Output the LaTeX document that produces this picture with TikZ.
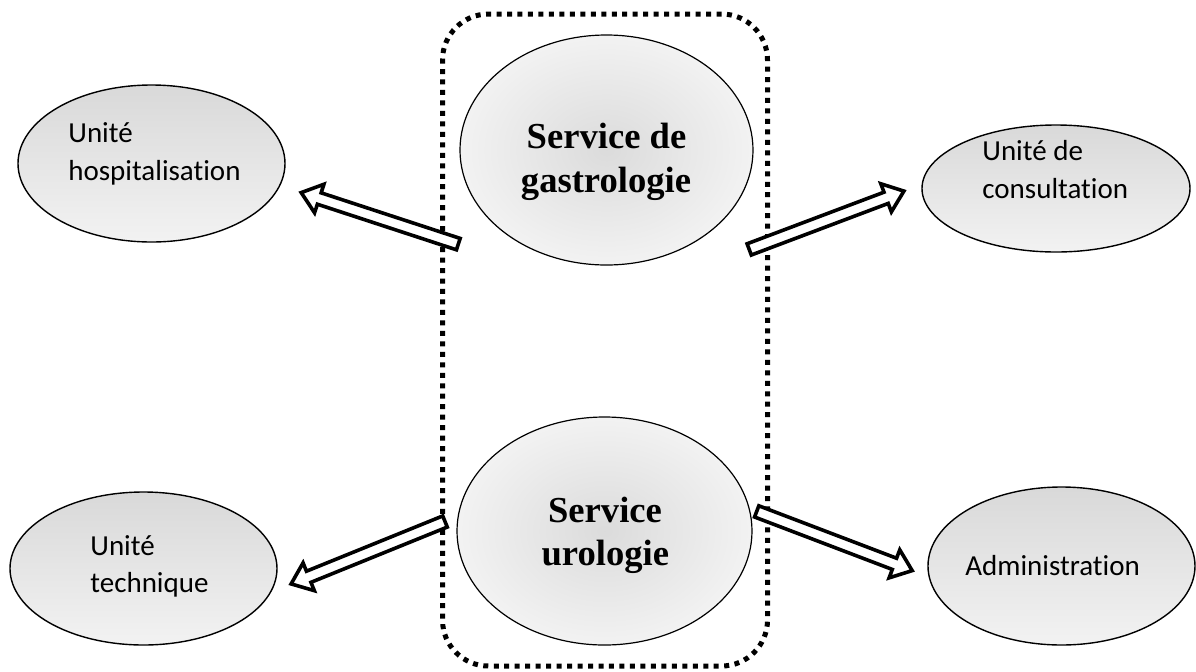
\documentclass[tikz,border=0pt]{standalone}
\usepackage{fontspec}
\setmainfont{Liberation Serif}
\newfontfamily\unitfont{Carlito}[Ligatures={NoCommon}]
\usetikzlibrary{calc,shapes.geometric}

\definecolor{unittop}{gray}{0.85}
\definecolor{unitbot}{gray}{0.95}
\definecolor{servin}{gray}{0.86}
\definecolor{servout}{gray}{0.95}

\tikzset{
  unit/.style={ellipse, draw=black, line width=0.7pt, inner sep=0pt,
    top color=unittop, bottom color=unitbot},
  service/.style={ellipse, draw=black, line width=0.6pt, inner sep=0pt,
    shading=radial, inner color=servin, outer color=servout},
  unittext/.style={font=\unitfont\fontsize{14.5}{19}\selectfont,
    inner sep=0pt, anchor=base west},
  servtext/.style={font=\bfseries\fontsize{18.3}{22}\selectfont,
    inner sep=0pt, anchor=base},
  % period chosen so the dots close evenly around the frame
  groupbox/.style={rectangle, draw=black, line width=2.5pt,
    dash pattern=on 2.5pt off 2.7374pt, rounded corners=23pt, inner sep=0pt},
  % hollow block arrow from the start point to the tip
  blockarrow/.style={draw=black, fill=white, line width=1.8pt,
    line join=miter, miter limit=10,
    to path={
      ($(\tikztostart)!3pt!90:(\tikztotarget)$)
      -- ($($(\tikztotarget)!9.5pt!(\tikztostart)$)!3pt!90:(\tikztotarget)$)
      -- ($($(\tikztotarget)!9.5pt!(\tikztostart)$)!7.5pt!90:(\tikztotarget)$)
      -- (\tikztotarget)
      -- ($($(\tikztotarget)!9.5pt!(\tikztostart)$)!7.5pt!-90:(\tikztotarget)$)
      -- ($($(\tikztotarget)!9.5pt!(\tikztostart)$)!3pt!-90:(\tikztotarget)$)
      -- ($(\tikztostart)!3pt!-90:(\tikztotarget)$)
      -- cycle
    }},
}

\begin{document}
\begin{tikzpicture}[x=0.5pt, y=-0.5pt]
  \useasboundingbox (0,0) rectangle (1196,671);

  % grouping frame around the two services
  \node[groupbox, minimum width=162.5pt, minimum height=326pt] (group) at (605,340) {};

  % services
  \node[service, minimum width=146.5pt, minimum height=115pt] (gastro) at (606.5,150) {};
  \node[service, minimum width=147.5pt, minimum height=114pt] (uro) at (604.5,531) {};

  % units
  \node[unit, minimum width=133.5pt, minimum height=78.5pt] (hosp) at (151.5,163.5) {};
  \node[unit, minimum width=134pt, minimum height=63.5pt] (consult) at (1056,188.5) {};
  \node[unit, minimum width=133.5pt, minimum height=76.5pt] (tech) at (143.5,568.5) {};
  \node[unit, minimum width=133.5pt, minimum height=79pt] (admin) at (1061.5,566) {};

  % arrow ends
  \coordinate (hospTail) at (458.3,244.1);
  \coordinate (hospTip) at (301.2,192.6);
  \coordinate (consultTail) at (749.2,249.4);
  \coordinate (consultTip) at (903.9,191.1);
  \coordinate (techTail) at (445.0,521.5);
  \coordinate (techTip) at (291.1,583.9);
  \coordinate (adminTail) at (756.7,511.4);
  \coordinate (adminTip) at (912.2,570.6);

  \draw[blockarrow] (hospTail) to (hospTip);
  \draw[blockarrow] (consultTail) to (consultTip);
  \draw[blockarrow] (techTail) to (techTip);
  \draw[blockarrow] (adminTail) to (adminTip);

  % labels
  \node[servtext] (gastroA) at (606.5,148) {Service de};
  \node[servtext] (gastroB) at (606,192) {gastrologie};
  \node[servtext] (uroA) at (605,522) {Service};
  \node[servtext] (uroB) at (605.3,565) {urologie};

  \node[unittext] (hospA) at (68,142) {Unité};
  \node[unittext] (hospB) at (68,180) {hospitalisation};
  \node[unittext] (consultA) at (982,160) {Unité de};
  \node[unittext] (consultB) at (982,198) {consultation};
  \node[unittext] (techA) at (90,555) {Unité};
  \node[unittext] (techB) at (90,592) {technique};
  \node[unittext] (adminA) at (965,575) {Administration};
\end{tikzpicture}
\end{document}
